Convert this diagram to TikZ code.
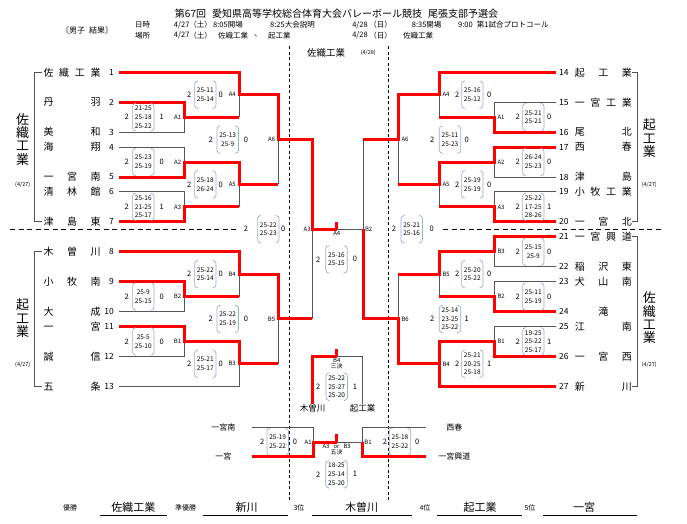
\documentclass[tikz,border=0pt]{standalone}
\usepackage{fontspec}
\setmainfont{Noto Sans CJK JP}
\definecolor{brkblue}{HTML}{9AAFCB}
\definecolor{linegray}{HTML}{555555}
\tikzset{
  lose/.style={draw=linegray, line width=0.9pt},
  win/.style={draw=red, line width=3pt},
  sc/.style={font=\fontsize{6.5}{8.7}\selectfont, align=center,
    minimum width=21pt, minimum height=27pt, inner sep=0pt},
  brk/.style={draw=brkblue, line width=0.7pt, rounded corners=3pt},
  digit/.style={font=\fontsize{7.5}{8}\selectfont, inner sep=0pt},
  num/.style={font=\fontsize{8.5}{9}\selectfont, inner sep=0pt},
  tname/.style={font=\fontsize{10}{11}\selectfont, inner sep=0pt},
  lab/.style={font=\fontsize{6}{6.5}\selectfont, inner sep=0pt, align=center},
  datelab/.style={font=\fontsize{5.5}{6}\selectfont, inner sep=0pt},
  headlab/.style={font=\fontsize{7.5}{8}\selectfont, inner sep=0pt},
  big/.style={font=\fontsize{13}{13.3}\selectfont, align=center, inner sep=0pt},
  place/.style={font=\fontsize{8}{9}\selectfont, inner sep=0pt},
  rank/.style={font=\fontsize{7}{8}\selectfont, inner sep=0pt},
  winner/.style={font=\fontsize{11}{12}\selectfont, inner sep=0pt},
  vdashed/.style={draw=black, line width=0.8pt, dash pattern=on 3pt off 2.5pt},
  hdashed/.style={draw=black, line width=1.6pt, dash pattern=on 5pt off 3.5pt},
}
\newcommand*{\score}[3]{%
  \node[sc] (#1) at (#2) {#3};
  \draw[brk] ([xshift=3.5pt]#1.north west) -- (#1.north west) -- (#1.south west) -- ([xshift=3.5pt]#1.south west);
  \draw[brk] ([xshift=-3.5pt]#1.north east) -- (#1.north east) -- (#1.south east) -- ([xshift=-3.5pt]#1.south east);}

\begin{document}
\begin{tikzpicture}[x=1pt,y=-1pt]
\useasboundingbox[fill=white] (0,0) rectangle (687,523);

% header
\node[font=\fontsize{10}{12}\selectfont, inner sep=0pt] (title) at (336.5,14)
  {第67回\hspace{6pt}愛知県高等学校総合体育大会バレーボール競技\hspace{6pt}尾張支部予選会};
\node[font=\fontsize{8}{9}\selectfont, inner sep=0pt] (kind) at (87,30) {〔男子\hspace{4pt}結果〕};
\node[headlab, anchor=west] (h1) at (135,25) {日時};
\node[headlab] (h2) at (181.7,25) {4/27};
\node[headlab] (h3) at (200.5,25) {（土）};
\node[headlab, anchor=west] (h4) at (213,25) {8:05開場};
\node[headlab, anchor=west] (h5) at (270,25) {8:25大会説明};
\node[headlab] (h6) at (360,25) {4/28};
\node[headlab] (h7) at (380.7,25) {（日）};
\node[headlab, anchor=west] (h8) at (411.7,25) {8:35開場};
\node[headlab, anchor=west] (h9) at (458,25) {9:00};
\node[headlab, anchor=west] (h10) at (476.7,25) {第1試合プロトコール};
\node[headlab, anchor=west] (p1) at (135,35.5) {場所};
\node[headlab] (p2) at (181.7,35.5) {4/27};
\node[headlab] (p3) at (200.5,35.5) {（土）};
\node[headlab, anchor=west] (p4) at (218,35.5) {佐織工業};
\node[headlab] (p5) at (258,35.5) {、};
\node[headlab, anchor=west] (p6) at (268,35.5) {起工業};
\node[headlab] (p7) at (360,35.5) {4/28};
\node[headlab] (p8) at (380.7,35.5) {（日）};
\node[headlab, anchor=west] (p9) at (403,35.5) {佐織工業};
\node[font=\fontsize{9.5}{10}\selectfont, inner sep=0pt] (venue) at (326,52.7) {佐織工業};
\node[datelab] (venued) at (368.3,52.7) {(4/28)};

\draw[vdashed] (289.3,46) -- (289.3,500);
\draw[vdashed] (388.3,46) -- (388.3,500);
\draw[hdashed] (10,229.3) -- (239,229.3);
\draw[hdashed] (443,229.3) -- (663,229.3);

% groups
\node[big] (gL1) at (22.7,139.3) {佐\\織\\工\\業};
\node[datelab] (dL1) at (22.7,184.3) {(4/27)};
\node[big] (gL2) at (22.7,318.3) {起\\工\\業};
\node[datelab] (dL2) at (22.7,364.3) {(4/27)};
\node[big] (gR1) at (649.3,138.3) {起\\工\\業};
\node[datelab] (dR1) at (649.3,185) {(4/27)};
\node[big] (gR2) at (649.3,317.9) {佐\\織\\工\\業};
\node[datelab] (dR2) at (649.3,364.3) {(4/27)};
\draw[lose] (41.7,72.3) -- (34.3,72.3) -- (34.3,221.8) -- (41.7,221.8);
\draw[lose] (41.7,251.7) -- (34.3,251.7) -- (34.3,386.25) -- (41.7,386.25);
\draw[lose] (632.3,72.3) -- (637.3,72.3) -- (637.3,221.8) -- (632.3,221.8);
\draw[lose] (632.3,236.75) -- (637.3,236.75) -- (637.3,386.25) -- (632.3,386.25);

% teams
\foreach \i/\y/\t in {1/72.3/佐\hfill 織\hfill 工\hfill 業, 2/102.2/丹\hfill 羽,
  3/132.1/美\hfill 和, 4/147.05/海\hfill 翔, 5/177/一\hfill 宮\hfill 南,
  6/191.9/清\hfill 林\hfill 館, 7/221.8/津\hfill 島\hfill 東, 8/251.7/木\hfill 曽\hfill 川,
  9/281.6/小\hfill 牧\hfill 南, 10/311.5/大\hfill 成, 11/326.45/一\hfill 宮,
  12/356.35/誠\hfill 信, 13/386.25/五\hfill 条}{
  \node[num, anchor=east] (n\i) at (114,\y) {\i};
  \node[tname] (m\i) at (72,\y) {\makebox[57pt]{\t}};
  \coordinate (t\i) at (119,\y);
}
\foreach \i/\y/\t in {14/72.3/起\hfill 工\hfill 業, 15/102.2/一\hfill 宮\hfill 工\hfill 業,
  16/132.1/尾\hfill 北, 17/147.05/西\hfill 春, 18/177/津\hfill 島,
  19/191.9/小\hfill 牧\hfill 工\hfill 業, 20/221.8/一\hfill 宮\hfill 北,
  21/236.75/一\hfill 宮\hfill 興\hfill 道, 22/266.65/稲\hfill 沢\hfill 東,
  23/281.6/犬\hfill 山\hfill 南, 24/311.5/\hfill 滝\hfill, 25/326.45/江\hfill 南,
  26/356.35/一\hfill 宮\hfill 西, 27/386.25/新\hfill 川}{
  \node[num, anchor=west] (n\i) at (559,\y) {\i};
  \node[tname] (m\i) at (603.3,\y) {\makebox[57pt]{\t}};
  \coordinate (t\i) at (555.7,\y);
}

% junctions
\foreach \n/\x/\y in {lA1/184.3/117.15, lA2/184.3/162, lA3/184.3/206.85, lA4/239/94.7,
  lA5/239/184.4, lA6/278.3/139.55, lB2/184.3/296.55, lB1/184.3/341.4, lB4/239/274.1,
  lB3/239/363.8, lB5/278.3/318.95, rA1/494.3/117.15, rA2/494.3/162, rA3/494.3/206.85,
  rA4/439.3/94.7, rA5/439.3/184.4, rA6/398.3/139.55, rB3/494.3/251.7, rB2/494.3/296.55,
  rB1/494.3/341.4, rB5/439.3/274.1, rB4/439.3/363.8, rB6/398.3/318.95,
  SL/312.3/229.25, SR/363.3/229.25, F/336.8/229.25}
  \coordinate (\n) at (\x,\y);

\draw[lose] (t3) -| (lA1);
\draw[lose] (t4) -| (lA2);
\draw[lose] (t6) -| (lA3);
\draw[lose] (lA1 -| lA4) -- (lA4);
\draw[lose] (lA3 -| lA5) -- (lA5);
\draw[lose] (lA5 -| lA6) -- (lA6);
\draw[lose] (t10) -| (lB2);
\draw[lose] (t12) -| (lB1);
\draw[lose] (t13) -| (lB3);
\draw[lose] (lB2 -| lB4) -- (lB4);
\draw[lose] (lB3 -| lB5) -- (lB5);
\draw[lose] (lB5 -| SL) -- (SL);
\draw[lose] (t15) -| (rA1);
\draw[lose] (t18) -| (rA2);
\draw[lose] (t19) -| (rA3);
\draw[lose] (rA1 -| rA4) -- (rA4);
\draw[lose] (rA3 -| rA5) -- (rA5);
\draw[lose] (rA5 -| rA6) -- (rA6);
\draw[lose] (rA6 -| SR) -- (SR);
\draw[lose] (t22) -| (rB3);
\draw[lose] (t23) -| (rB2);
\draw[lose] (t25) -| (rB1);
\draw[lose] (rB2 -| rB5) -- (rB5);
\draw[lose] (rB5 -| rB6) -- (rB6);
\draw[lose] (F) -- (SR);

\draw[win] (t1) -| (lA4) -| (lA6) -| (SL) -- (F);
\draw[win] (F) -- ++(0,-7);
\draw[win] (t2) -| (lA1) -- (lA1 -| lA4);
\draw[win] (t5) -| (lA2) -| (lA5) -- (lA5 -| lA6);
\draw[win] (t7) -| (lA3) -- (lA3 -| lA5);
\draw[win] (t8) -| (lB4) -| (lB5) -- (lB5 -| SL);
\draw[win] (t9) -| (lB2) -- (lB2 -| lB4);
\draw[win] (t11) -| (lB1) -| (lB3) -- (lB3 -| lB5);
\draw[win] (t14) -| (rA4) -| (rA6) -- (rA6 -| SR);
\draw[win] (t16) -| (rA1) -- (rA1 -| rA4);
\draw[win] (t17) -| (rA2) -| (rA5) -- (rA5 -| rA6);
\draw[win] (t20) -| (rA3) -- (rA3 -| rA5);
\draw[win] (t21) -| (rB3) -| (rB5) -- (rB5 -| rB6);
\draw[win] (t24) -| (rB2) -- (rB2 -| rB5);
\draw[win] (t26) -| (rB1) -| (rB4);
\draw[win] (t27) -| (rB4) -| (rB6) -| (SR);

% scores
\foreach \n/\x/\y/\s/\xa/\xb/\r in {
  lA1/143.3/117.15/{21-25\\25-18\\25-22}/126.7/161.7/1,
  lA2/143.3/162/{25-23\\25-19}/126.7/161.7/0,
  lA3/143.3/206.85/{25-16\\21-25\\25-17}/126.7/161.7/1,
  lA4/205.3/94.7/{25-11\\25-14}/189.3/220.7/0,
  lA5/205.3/184.4/{25-18\\26-24}/189.3/220.7/0,
  lA6/227.7/139.55/{25-13\\25-9}/210.7/246/0,
  lB2/143.3/296.55/{25-9\\25-15}/126.7/161.7/0,
  lB1/143.3/341.4/{25-5\\25-10}/126.7/161.7/0,
  lB4/205.3/274.1/{25-22\\25-14}/189.3/220.7/0,
  lB3/205.3/363.8/{25-21\\25-17}/189.3/220.7/0,
  lB5/227.7/318.95/{25-22\\25-19}/210.7/246/0,
  rA1/533.3/117.15/{25-21\\25-21}/517.7/549.3/0,
  rA2/533.3/162/{26-24\\25-23}/517.7/549.3/0,
  rA3/533.3/206.85/{25-22\\17-25\\28-26}/517.7/549.3/1,
  rA4/472.3/94.7/{25-16\\25-12}/457.3/489.3/0,
  rA5/472.3/184.4/{25-19\\25-19}/457.3/489.3/0,
  rA6/450/139.55/{25-11\\25-23}/432.3/466.7/0,
  rB3/533.3/251.7/{25-15\\25-9}/517.7/549.3/0,
  rB2/533.3/296.55/{25-11\\25-19}/517.7/549.3/0,
  rB1/533.3/341.4/{19-25\\25-22\\25-17}/517.7/549.3/1,
  rB5/472.3/274.1/{25-20\\25-22}/457.3/489.3/0,
  rB4/472.3/363.8/{25-21\\20-25\\25-18}/457.3/489.3/1,
  rB6/450/318.95/{25-14\\23-25\\25-22}/432.3/466.7/1,
  semiL/268.3/229.25/{25-22\\25-23}/246/283.3/0,
  semiR/411.7/229.25/{25-21\\25-16}/394/431.7/0,
  final/336.5/259.3/{25-16\\25-15}/318.3/355/0,
  third/336.7/386.7/{25-22\\25-27\\25-20}/318.3/355/1,
  fifthL/277.7/441.7/{25-19\\25-22}/262.3/295/0,
  fifthR/400/441.7/{25-18\\25-22}/385/417.3/0,
  fifth/336.5/474.3/{18-25\\25-14\\25-20}/318.3/355/1}{
  \score{s-\n}{\x,\y}{\s}
  \node[digit] (a-\n) at (\xa,\y) {2};
  \node[digit] (b-\n) at (\xb,\y) {\r};
}

\foreach \n/\t in {lA1/A1, lA2/A2, lA3/A3, lA4/A4, lA5/A5, lA6/A6,
  lB1/B1, lB2/B2, lB3/B3, lB4/B4, lB5/B5}
  \node[lab, anchor=east, xshift=-3pt] (L-\n) at (\n) {\t};
\foreach \n/\t in {rA1/A1, rA2/A2, rA3/A3, rA4/A4, rA5/A5, rA6/A6,
  rB1/B1, rB2/B2, rB3/B3, rB4/B4, rB5/B5, rB6/B6}
  \node[lab, anchor=west, xshift=3pt] (L-\n) at (\n) {\t};
\node[lab, anchor=east, xshift=-1.5pt] (L-SL) at (SL) {A3};
\node[lab, anchor=north, yshift=-2pt] (L-F) at (F) {A4};
\node[lab, anchor=west, xshift=1.5pt] (L-SR) at (SR) {B2};

% third place
\coordinate (k3) at (336.7,356);
\node[place, font=\fontsize{8.5}{9}\selectfont] (k3L) at (312.7,408) {木曽川};
\node[place, font=\fontsize{8.5}{9}\selectfont] (k3R) at (362.7,408) {起工業};
\draw[lose] (k3R.north) |- (k3);
\draw[win] (k3L.north) |- (k3);
\draw[win] (k3) -- ++(0,-7);
\node[lab] (L-k3) at (336.7,363.7) {B4\\三決};

% fifth place
\node[place] (g1) at (223.3,427.3) {一宮南};
\node[place] (g2) at (223.3,456.7) {一宮};
\node[place] (g3) at (454.3,427.3) {西春};
\node[place] (g4) at (454.3,456.7) {一宮興道};
\coordinate (e1) at (252.3,427.3);
\coordinate (e2) at (252.3,456.7);
\coordinate (e3) at (426,427.3);
\coordinate (e4) at (426,456.7);
\coordinate (f5L) at (313.3,442.3);
\coordinate (f5R) at (362.7,442.3);
\coordinate (f5) at (336.7,442.3);
\draw[lose] (e1) -| (f5L);
\draw[lose] (e3) -| (f5R);
\draw[lose] (f5) -- (f5R);
\draw[win] (e2) -| (f5L) -- (f5);
\draw[win] (f5) -- ++(0,-8);
\draw[win] (e4) -| (f5R);
\node[lab, anchor=east, xshift=-1.5pt] (L-f5L) at (f5L) {A1};
\node[lab, anchor=west, xshift=1.5pt] (L-f5R) at (f5R) {B1};
\node[lab] (L-f5) at (336.7,449.7) {A3\hspace{4pt}or\hspace{4pt}B3\\五決};

% results
\node[rank] (r1) at (70,507.7) {優勝};
\node[winner] (w1) at (133.3,507.7) {佐織工業};
\node[rank] (r2) at (185.7,507.7) {準優勝};
\node[winner] (w2) at (246.7,507.7) {新川};
\node[rank] (r3) at (299,507.7) {3位};
\node[winner] (w3) at (361.5,507.7) {木曽川};
\node[rank] (r4) at (425,507.7) {4位};
\node[winner] (w4) at (480,507.7) {起工業};
\node[rank] (r5) at (530,507.7) {5位};
\node[winner] (w5) at (584,507.7) {一宮};
\draw[lose, draw=black] (99.7,515) -- (167.4,515);
\draw[lose, draw=black] (203.3,515) -- (288.3,515);
\draw[lose, draw=black] (312,515) -- (411.5,515);
\draw[lose, draw=black] (437,515) -- (522,515);
\draw[lose, draw=black] (543,515) -- (637,515);
\end{tikzpicture}
\end{document}
